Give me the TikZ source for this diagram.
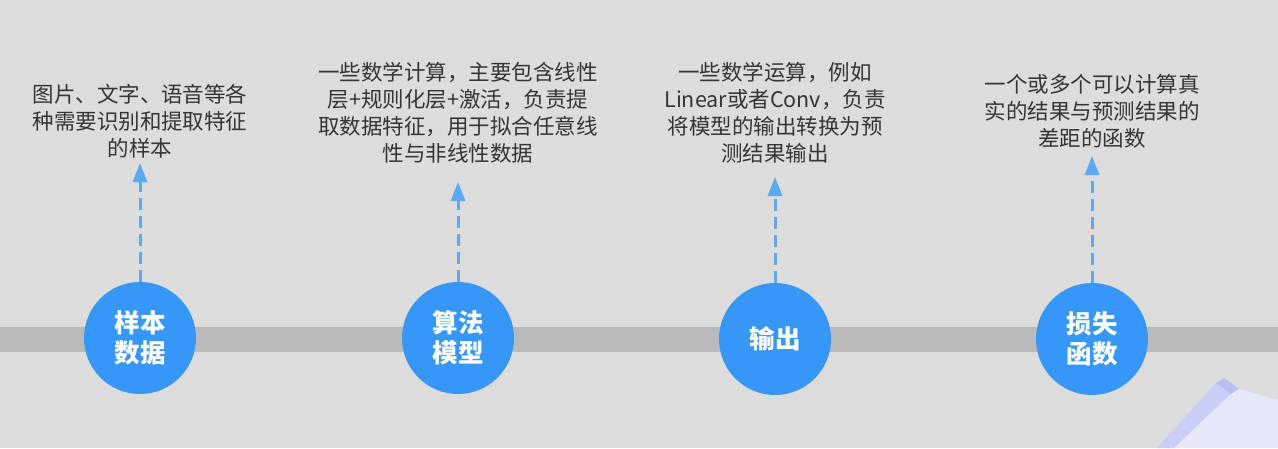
\documentclass[tikz,border=0pt]{standalone}
\usepackage{fontspec}
\setmainfont{Noto Sans CJK SC}
\usetikzlibrary{arrows.meta}
\definecolor{bgc}{HTML}{DCDCDC}
\definecolor{bandc}{HTML}{B9B9B9}
\definecolor{circc}{HTML}{3697F6}
\definecolor{arrc}{HTML}{5AA9F2}
\definecolor{txtc}{HTML}{353535}
\definecolor{faceA}{HTML}{E6E8FA}
\definecolor{faceB}{HTML}{C9CEF6}
\definecolor{faceC}{HTML}{B7BFF0}
\tikzset{
  stage/.style={circle, fill=circc, minimum size=112pt, inner sep=0pt,
    text=white, font=\fontsize{25.5}{30}\selectfont\bfseries, align=center},
  desc/.style={anchor=north, inner sep=0pt, text=txtc, align=center,
    font=\fontsize{21.5}{27}\selectfont},
  upline/.style={draw=arrc, line width=3pt, dash pattern=on 12pt off 6pt,
    -{Triangle[width=14pt,length=19pt,sep=0pt]}, shorten >=0pt}
}
\begin{document}
\begin{tikzpicture}[x=1pt,y=-1pt]
\useasboundingbox (0,0) rectangle (1278,448);
\fill[bgc] (0,0) rectangle (1278,448);
% horizontal band
\fill[bandc] (0,327) rectangle (1278,352);
% decorative corner shape
\fill[faceB] (1157,448) -- (1216,383) -- (1231,394) -- (1174,448) -- cycle;
\fill[faceC] (1216,383) -- (1224,378) -- (1239,389) -- (1231,394) -- cycle;
\fill[faceA] (1174,448) -- (1231,394) -- (1239,389) -- (1278,400) -- (1278,448) -- cycle;
% stages
\node[stage] (c1) at (140,338) {样本\\数据};
\node[stage] (c2) at (458,338) {算法\\模型};
\node[stage] (c3) at (775,339) {输出};
\node[stage] (c4) at (1092,339) {损失\\函数};
% descriptions
\node[desc] (t1) at (140,84.5) {图片、文字、语音等各\\种需要识别和提取特征\\的样本};
\node[desc] (t2) at (458,62.5) {一些数学计算，主要包含线性\\层+规则化层+激活，负责提\\取数据特征，用于拟合任意线\\性与非线性数据};
\node[desc] (t3) at (775,62.5) {一些数学运算，例如\\Linear或者Conv，负责\\将模型的输出转换为预\\测结果输出};
\node[desc] (t4) at (1092,74.5) {一个或多个可以计算真\\实的结果与预测结果的\\差距的函数};
% arrow tips
\coordinate (a1) at (140,163);
\coordinate (a2) at (458,182);
\coordinate (a3) at (775,177);
\coordinate (a4) at (1092,156);
\draw[upline] (c1.north) -- (a1);
\draw[upline] (c2.north) -- (a2);
\draw[upline] (c3.north) -- (a3);
\draw[upline] (c4.north) -- (a4);
\end{tikzpicture}
\end{document}
